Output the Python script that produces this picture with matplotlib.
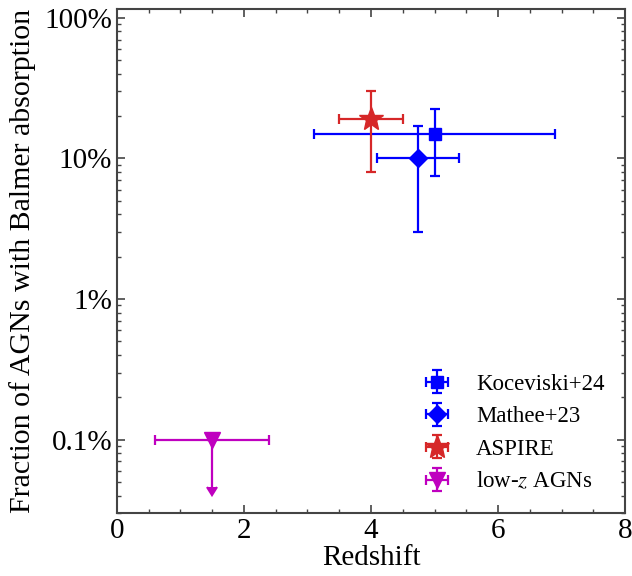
import matplotlib
matplotlib.use("Agg")
import matplotlib.pyplot as plt
from matplotlib.ticker import FuncFormatter, LogLocator, MultipleLocator

plt.rcParams['font.family'] = ['Liberation Serif', 'DejaVu Serif']
plt.rcParams['mathtext.fontset'] = 'stix'

# data (fractions in percent)
labels = ["Koceviski+24", "Mathee+23", "ASPIRE", r"low-$z$ AGNs"]
z = [5.0, 4.74, 4.0, 1.5]
z_err = [1.9, 0.65, 0.5, 0.9]
frac = [15.0, 10.0, 19.0, 0.1]
frac_err = [7.5, 7.0, 11.0, 0.054]
colors = ["blue", "blue", "#d62728", "#bf00bf"]
markers = ["s", "D", "*", "v"]
msizes = [9, 9.5, 18, 12]

fig = plt.figure(figsize=(6.32, 5.76), dpi=100)
ax = fig.add_axes([0.185, 0.109, 0.804, 0.875])

for i in range(4):
    uplim = (i == 3)
    ax.errorbar(z[i], frac[i], xerr=z_err[i], yerr=frac_err[i], fmt=markers[i],
                color=colors[i], ms=msizes[i], lw=1.6, capsize=3.6, capthick=1.6,
                uplims=uplim, label=labels[i])

ax.set_yscale('log')
ax.set_xlim(0, 8)
ax.set_ylim(0.03, 115)
ax.xaxis.set_major_locator(MultipleLocator(2))
ax.xaxis.set_minor_locator(MultipleLocator(0.5))
ax.yaxis.set_major_locator(LogLocator(base=10, numticks=10))
ax.yaxis.set_minor_locator(LogLocator(base=10, subs=range(2, 10), numticks=20))

def pct(v, pos):
    if v >= 1:
        return f"{v:.0f}%"
    return f"{v:g}%"
ax.yaxis.set_major_formatter(FuncFormatter(pct))

ax.tick_params(which='both', direction='in', top=True, right=True, colors='#444444',
               labelcolor='black', labelsize=21)
ax.tick_params(which='major', length=6, width=1.2)
ax.tick_params(which='minor', length=3, width=1.0)
for s in ax.spines.values():
    s.set_color('#444444')
    s.set_linewidth(1.5)

ax.set_xlabel("Redshift", fontsize=21, labelpad=1)
ax.set_ylabel("Fraction of AGNs with Balmer absorption", fontsize=21.5, labelpad=6)

ax.legend(loc='lower right', frameon=False, fontsize=16.5, handlelength=1.6,
          borderaxespad=0.5, labelspacing=0.5, handletextpad=0.9)

fig.savefig("out.png", dpi=100)
